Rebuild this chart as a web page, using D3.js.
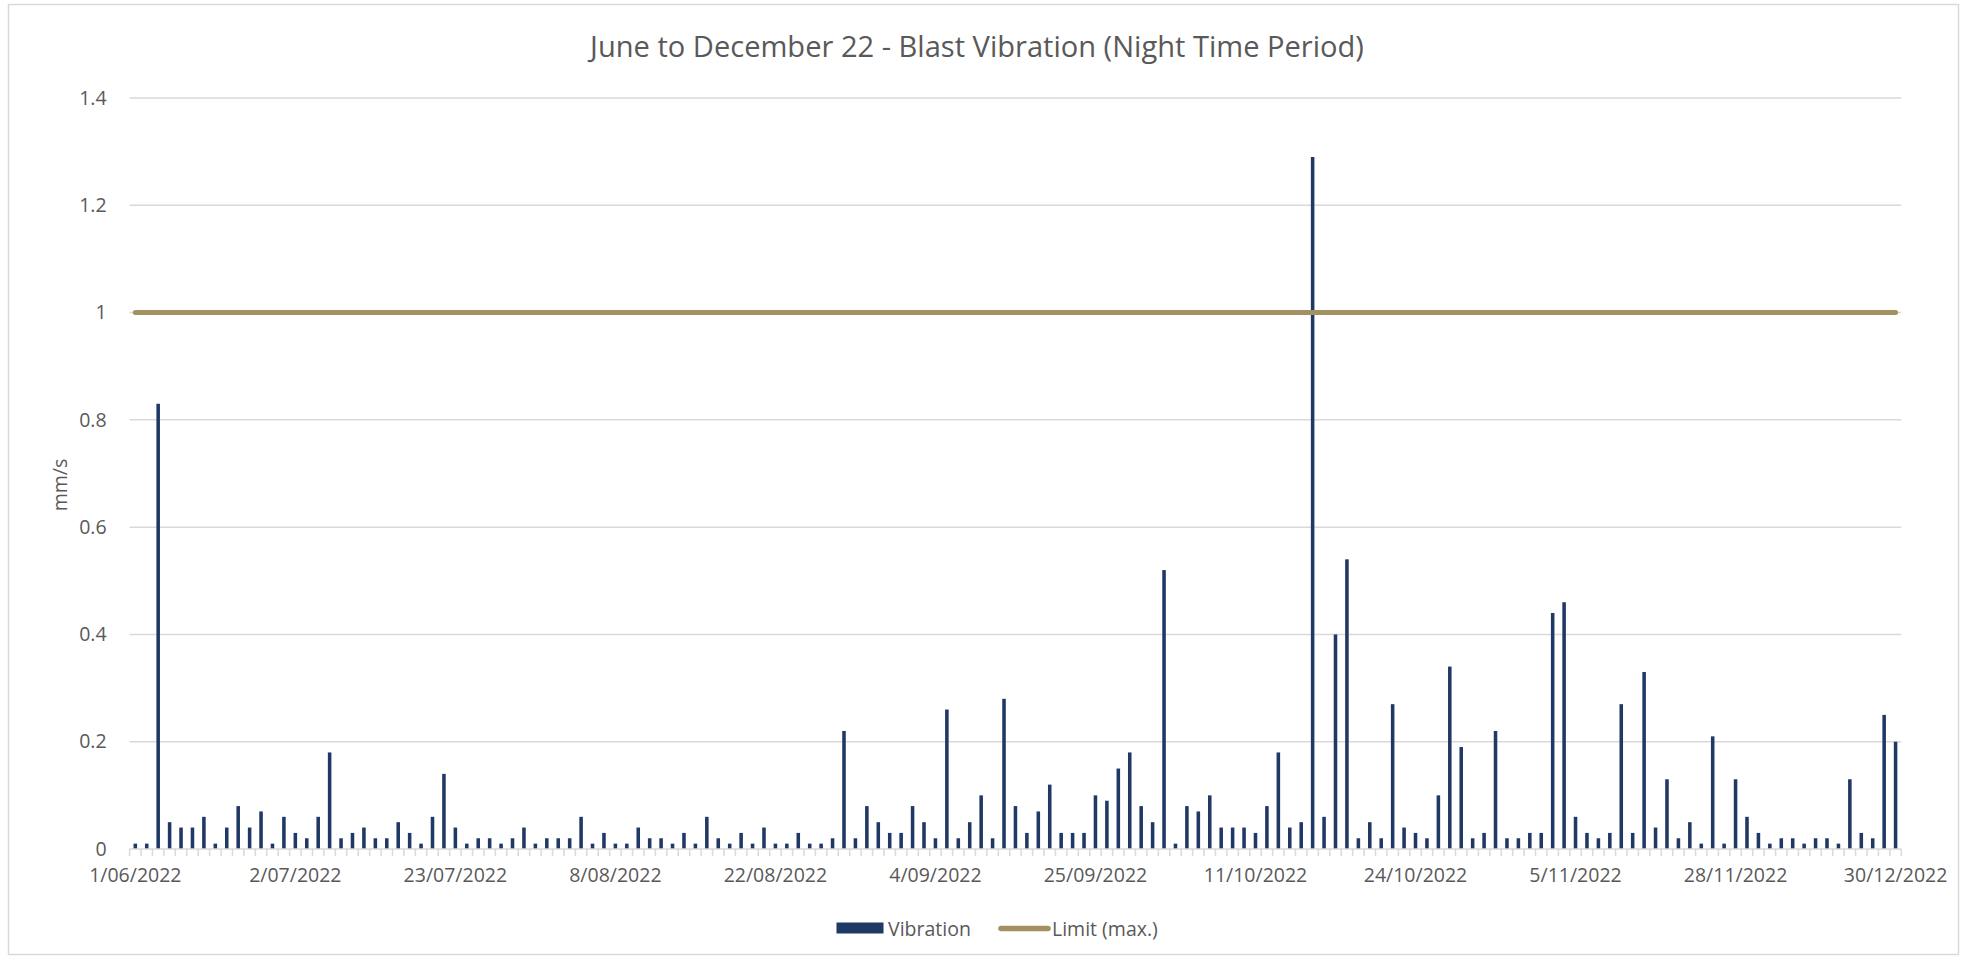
<!DOCTYPE html>
<html>
<head>
<meta charset="utf-8">
<script src="https://cdn.jsdelivr.net/npm/d3@7"></script>
<style>
  html, body { margin: 0; padding: 0; background: #ffffff; }
  svg { display: block; }
  text { font-family: "Open Sans", "Noto Sans", sans-serif; fill: #595959; }
</style>
</head>
<body>
<svg id="chart" width="1967" height="960"></svg>
<script>
// ---------------- data ----------------
const title = "June to December 22 - Blast Vibration (Night Time Period)";
const yAxisTitle = "mm/s";
const seriesNames = ["Vibration", "Limit (max.)"];

// one reading per category (155 categories, in order)
const vibration = [
  0.01,0.01,0.83,0.05,0.04,0.04,0.06,0.01,0.04,0.08,
  0.04,0.07,0.01,0.06,0.03,0.02,0.06,0.18,0.02,0.03,
  0.04,0.02,0.02,0.05,0.03,0.01,0.06,0.14,0.04,0.01,
  0.02,0.02,0.01,0.02,0.04,0.01,0.02,0.02,0.02,0.06,
  0.01,0.03,0.01,0.01,0.04,0.02,0.02,0.01,0.03,0.01,
  0.06,0.02,0.01,0.03,0.01,0.04,0.01,0.01,0.03,0.01,
  0.01,0.02,0.22,0.02,0.08,0.05,0.03,0.03,0.08,0.05,
  0.02,0.26,0.02,0.05,0.10,0.02,0.28,0.08,0.03,0.07,
  0.12,0.03,0.03,0.03,0.10,0.09,0.15,0.18,0.08,0.05,
  0.52,0.01,0.08,0.07,0.10,0.04,0.04,0.04,0.03,0.08,
  0.18,0.04,0.05,1.29,0.06,0.40,0.54,0.02,0.05,0.02,
  0.27,0.04,0.03,0.02,0.10,0.34,0.19,0.02,0.03,0.22,
  0.02,0.02,0.03,0.03,0.44,0.46,0.06,0.03,0.02,0.03,
  0.27,0.03,0.33,0.04,0.13,0.02,0.05,0.01,0.21,0.01,
  0.13,0.06,0.03,0.01,0.02,0.02,0.01,0.02,0.02,0.01,
  0.13,0.03,0.02,0.25,0.20
];
const limitValue = 1; // Limit (max.), mm/s

// category axis labels (shown every 14th category)
const tickIndex  = [0, 14, 28, 42, 56, 70, 84, 98, 112, 126, 140, 154];
const tickLabels = ["1/06/2022","2/07/2022","23/07/2022","8/08/2022","22/08/2022","4/09/2022",
                    "25/09/2022","11/10/2022","24/10/2022","5/11/2022","28/11/2022","30/12/2022"];
const yTicks = [0, 0.2, 0.4, 0.6, 0.8, 1, 1.2, 1.4];

const categories = vibration.map((_, i) => i);

// ---------------- layout ----------------
const W = 1967, H = 960;
const plot = { left: 129.6, right: 1901.3, top: 98, bottom: 849 };
const colBar = "#1f3864", colLimit = "#a39161", colGrid = "#d9d9d9", colText = "#595959";

const svg = d3.select("#chart");

// chart border
svg.append("rect")
  .attr("x", 8.5).attr("y", 4.5).attr("width", W - 17).attr("height", H - 10)
  .attr("fill", "#ffffff").attr("stroke", colGrid).attr("stroke-width", 1.5);

const x = d3.scaleBand()
  .domain(categories)
  .range([plot.left, plot.right])
  .paddingInner(0.69)
  .paddingOuter(0.345);

const y = d3.scaleLinear().domain([0, 1.4]).range([plot.bottom, plot.top]);

// gridlines
svg.append("g").selectAll("line")
  .data(yTicks.filter(d => d > 0))
  .join("line")
  .attr("x1", plot.left).attr("x2", plot.right)
  .attr("y1", d => y(d)).attr("y2", d => y(d))
  .attr("stroke", colGrid).attr("stroke-width", 1.5);

// y axis labels
const yAxis = d3.axisLeft(y).tickValues(yTicks).tickSize(0).tickPadding(0)
  .tickFormat(d => d3.format("")(+d.toFixed(1)));
const gy = svg.append("g").attr("transform", `translate(${plot.left - 23},0)`).call(yAxis);
gy.select(".domain").remove();
gy.selectAll("text").attr("font-size", 19.5).attr("fill", colText)
  .attr("font-family", "'Open Sans', sans-serif");

// y axis title
svg.append("text")
  .attr("transform", `translate(59,485) rotate(-90)`)
  .attr("text-anchor", "middle").attr("dominant-baseline", "central")
  .attr("font-size", 19.5).text(yAxisTitle);

// bars
svg.append("g").selectAll("rect")
  .data(vibration)
  .join("rect")
  .attr("x", (d, i) => x(categories[i]))
  .attr("width", x.bandwidth())
  .attr("y", d => y(d))
  .attr("height", d => y(0) - y(d))
  .attr("fill", colBar);

// x axis line and category boundary ticks
svg.append("line")
  .attr("x1", plot.left).attr("x2", plot.right)
  .attr("y1", y(0)).attr("y2", y(0))
  .attr("stroke", colGrid).attr("stroke-width", 1.5);
const half = (x.step() - x.bandwidth()) / 2;
const boundaries = categories.map(c => x(c) - half).concat([plot.right]);
svg.append("g").selectAll("line")
  .data(boundaries)
  .join("line")
  .attr("x1", d => d).attr("x2", d => d)
  .attr("y1", y(0)).attr("y2", y(0) + 7)
  .attr("stroke", colGrid).attr("stroke-width", 1.5);

// x axis labels
const xAxis = d3.axisBottom(x).tickValues(tickIndex).tickSize(0).tickPadding(0)
  .tickFormat(d => tickLabels[tickIndex.indexOf(d)]);
const gx = svg.append("g").attr("transform", `translate(0,${y(0) + 19})`).call(xAxis);
gx.select(".domain").remove();
gx.selectAll("text").attr("font-size", 19.5).attr("fill", colText)
  .attr("font-family", "'Open Sans', sans-serif");

// limit line
const line = d3.line().x(d => x(d[0]) + x.bandwidth() / 2).y(d => y(d[1]));
svg.append("path")
  .datum([[categories[0], limitValue], [categories[categories.length - 1], limitValue]])
  .attr("d", line)
  .attr("fill", "none").attr("stroke", colLimit)
  .attr("stroke-width", 5).attr("stroke-linecap", "round");

// title (fit to measured width of reference)
const t = svg.append("text")
  .attr("x", 977).attr("y", 57)
  .attr("text-anchor", "middle")
  .attr("font-size", 28).text(title);
const tw = t.node().getComputedTextLength();
t.attr("font-size", 28 * 774 / tw);

// legend
const lg = svg.append("g");
lg.append("rect").attr("x", 836.5).attr("y", 922.5).attr("width", 47).attr("height", 11).attr("fill", colBar);
lg.append("text").attr("x", 888).attr("y", 928).attr("dominant-baseline", "central")
  .attr("font-size", 19.5).text(seriesNames[0]);
lg.append("line").attr("x1", 1001).attr("x2", 1048).attr("y1", 928.5).attr("y2", 928.5)
  .attr("stroke", colLimit).attr("stroke-width", 5.5).attr("stroke-linecap", "round");
lg.append("text").attr("x", 1052).attr("y", 928).attr("dominant-baseline", "central")
  .attr("font-size", 19.5).text(seriesNames[1]);
</script>
</body>
</html>
